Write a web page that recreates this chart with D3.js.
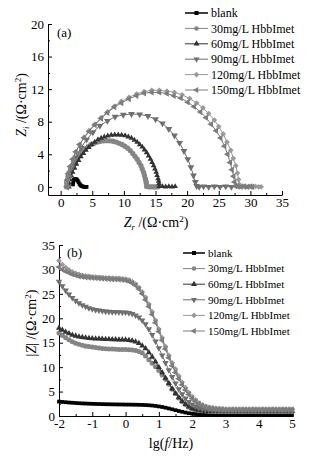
<!DOCTYPE html>
<html>
<head>
<meta charset="utf-8">
<script src="https://cdn.jsdelivr.net/npm/d3@7"></script>
<style>
  body { margin: 0; background: #fff; }
  text { font-family: "Liberation Serif", "Times New Roman", serif; fill: #000; }
</style>
</head>
<body>
<svg id="chart" width="318" height="458"></svg>
<script>
// legend names
const seriesNames = ["blank", "30mg/L HbbImet", "60mg/L HbbImet", "90mg/L HbbImet", "120mg/L HbbImet", "150mg/L HbbImet"];

// (a) Nyquist: [Zr, Zi]
const nyqBlank = [[1.95,0.3],[2.0,0.6],[2.1,0.85],[2.25,0.95],[2.4,0.95],[2.55,0.9],[2.7,0.75],[2.85,0.55],[3.0,0.35],[3.15,0.2],[3.3,0.1],[3.5,0.05],[3.7,0.0],[3.9,0.0],[4.1,0.0]];
const nyq30 = [[0.9,0],[0.95,0.45],[1.0,0.8],[1.15,1.25],[1.3,1.7],[1.55,2.15],[1.8,2.6],[2.1,3.0],[2.4,3.4],[2.75,3.75],[3.1,4.1],[3.5,4.4],[3.9,4.7],[4.35,4.95],[4.8,5.2],[5.3,5.35],[5.8,5.5],[6.3,5.6],[6.8,5.65],[7.3,5.67],[7.8,5.65],[8.3,5.6],[8.8,5.5],[9.25,5.35],[9.7,5.2],[10.15,5.0],[10.6,4.75],[11.0,4.45],[11.4,4.1],[11.75,3.75],[12.1,3.4],[12.4,3.0],[12.7,2.6],[12.9,2.2],[13.1,1.8],[13.25,1.4],[13.4,1.0],[13.5,0.7],[13.55,0.4],[13.6,0.05],[13.9,0.0],[14.2,0.0],[14.5,0.0],[14.8,0.0],[15.1,0.0],[15.4,0.0]];
const nyq60 = [[1.3,0],[1.35,0.45],[1.5,0.9],[1.7,1.35],[1.9,1.8],[2.2,2.3],[2.5,2.8],[2.85,3.25],[3.2,3.7],[3.6,4.1],[4.0,4.5],[4.45,4.85],[4.9,5.2],[5.4,5.5],[5.9,5.8],[6.4,6.0],[6.9,6.15],[7.45,6.27],[8.0,6.35],[8.55,6.4],[9.1,6.4],[9.65,6.37],[10.2,6.3],[10.7,6.15],[11.2,6.0],[11.65,5.75],[12.1,5.5],[12.5,5.2],[12.9,4.9],[13.25,4.55],[13.6,4.2],[13.9,3.8],[14.2,3.4],[14.45,3.0],[14.7,2.6],[14.9,2.2],[15.1,1.8],[15.25,1.4],[15.4,1.0],[15.5,0.7],[15.55,0.4],[15.6,0.05],[16.1,0.05],[16.6,0.0],[17.1,0.05],[17.6,0.0],[18.1,0.05]];
const nyq90 = [[1.2,0],[1.4,1.2],[1.8,2.4],[2.4,3.6],[3.2,4.8],[4.1,5.8],[5.1,6.7],[6.2,7.5],[7.4,8.1],[8.6,8.6],[9.9,8.85],[11.2,8.95],[12.5,8.9],[13.8,8.7],[15.0,8.3],[16.1,7.8],[17.1,7.1],[18.0,6.3],[18.8,5.4],[19.5,4.4],[20.1,3.4],[20.6,2.4],[21.0,1.4],[21.3,0.6],[21.5,0.1],[21.9,0.0],[22.6,0.05],[23.4,0.0],[24.3,0.05],[25.2,0.0],[26.1,0.05],[27.0,0.0]];
const nyq120 = [[1.0,0],[1.05,0.8],[1.2,1.6],[1.5,2.5],[1.9,3.4],[2.4,4.3],[3.0,5.2],[3.7,6.1],[4.5,6.9],[5.4,7.7],[6.4,8.5],[7.4,9.2],[8.5,9.9],[9.6,10.5],[10.8,11.0],[12.0,11.4],[13.2,11.7],[14.4,11.85],[15.6,11.85],[16.8,11.75],[18.0,11.6],[19.2,11.3],[20.4,10.85],[21.5,10.3],[22.5,9.7],[23.4,9.0],[24.3,8.2],[25.0,7.4],[25.7,6.5],[26.3,5.5],[26.9,4.5],[27.3,3.5],[27.7,2.6],[27.95,1.7],[28.15,0.9],[28.25,0.3],[28.3,0.05],[28.8,0.1],[29.3,0.0],[29.8,0.05],[30.3,0.0],[30.8,0.05],[31.3,0.0],[31.7,0.0]];
const nyq150 = [[1.0,0],[1.05,0.8],[1.2,1.6],[1.5,2.5],[1.9,3.4],[2.4,4.3],[3.0,5.2],[3.7,6.0],[4.5,6.8],[5.4,7.6],[6.4,8.4],[7.4,9.1],[8.5,9.8],[9.6,10.3],[10.8,10.8],[12.0,11.2],[13.2,11.5],[14.4,11.6],[15.6,11.6],[16.8,11.45],[17.9,11.2],[19.0,10.9],[20.1,10.4],[21.1,9.85],[22.1,9.2],[23.0,8.5],[23.8,7.7],[24.6,6.9],[25.3,6.0],[25.9,5.0],[26.4,4.0],[26.8,3.0],[27.1,2.1],[27.35,1.3],[27.5,0.6],[27.6,0.1],[28.0,0.05],[28.5,0.0],[29.0,0.05],[29.5,0.0],[30.0,0.05],[30.3,0.0]];

// (b) Bode: lg(f/Hz) and |Z|
const lgFreq = [-2.0,-1.9,-1.8,-1.7,-1.6,-1.5,-1.4,-1.3,-1.2,-1.1,
  -1.0,-0.9,-0.8,-0.7,-0.6,-0.5,-0.4,-0.3,-0.2,-0.1,
  0.0,0.1,0.2,0.3,0.4,0.5,0.6,0.7,0.8,0.9,
  1.0,1.1,1.2,1.3,1.4,1.5,1.6,1.7,1.8,1.9,
  2.0,2.1,2.2,2.3,2.4,2.5,2.6,2.7,2.8,2.9,
  3.0,3.1,3.2,3.3,3.4,3.5,3.6,3.7,3.8,3.9,
  4.0,4.1,4.2,4.3,4.4,4.5,4.6,4.7,4.8,4.9,5.0];
const bodeBlank = [2.95,2.88,2.82,2.76,2.71,2.66,2.62,2.58,2.55,2.52,
  2.49,2.47,2.45,2.43,2.41,2.40,2.38,2.37,2.36,2.35,
  2.34,2.33,2.32,2.31,2.29,2.27,2.24,2.20,2.14,2.06,
  1.96,1.84,1.70,1.54,1.37,1.19,1.02,0.86,0.71,0.58,
  0.48,0.40,0.34,0.29,0.26,0.24,0.22,0.21,0.21,0.20,
  0.20,0.20,0.20,0.20,0.20,0.20,0.20,0.20,0.20,0.20,
  0.20,0.20,0.20,0.20,0.20,0.20,0.20,0.20,0.20,0.20,0.20];
const bode30 = [17.0,16.5,16.0,15.6,15.2,14.9,14.7,14.5,14.3,14.2,
  14.1,14.0,13.9,13.8,13.75,13.7,13.7,13.65,13.6,13.6,
  13.6,13.55,13.5,13.4,13.2,12.9,12.3,11.5,10.8,10.1,
  9.3,8.4,7.5,6.5,5.5,4.6,3.7,2.9,2.3,1.8,
  1.5,1.3,1.15,1.05,1.0,0.95,0.92,0.9,0.9,0.9,
  0.9,0.9,0.9,0.9,0.9,0.9,0.9,0.9,0.9,0.9,
  0.9,0.9,0.9,0.9,0.9,0.9,0.9,0.9,0.9,0.9,0.9];
const bode60 = [18.0,17.6,17.2,16.9,16.6,16.4,16.2,16.1,16.0,15.9,
  15.85,15.8,15.8,15.75,15.7,15.7,15.65,15.65,15.6,15.6,
  15.6,15.5,15.4,15.2,14.9,14.4,13.8,13.0,12.1,11.1,
  10.0,8.9,7.8,6.7,5.6,4.6,3.8,3.0,2.4,1.9,
  1.55,1.35,1.2,1.1,1.0,0.97,0.95,0.95,0.95,0.95,
  0.95,0.95,0.95,0.95,0.95,0.95,0.95,0.95,0.95,0.95,
  0.95,0.95,0.95,0.95,0.95,0.95,0.95,0.95,0.95,0.95,0.95];
const bode90 = [27.5,26.6,25.7,24.9,24.2,23.6,23.1,22.7,22.4,22.1,
  21.9,21.7,21.6,21.5,21.4,21.35,21.3,21.3,21.25,21.2,
  21.2,21.1,20.9,20.6,20.2,19.6,18.8,17.8,16.6,15.3,
  13.9,12.4,10.9,9.4,8.0,6.7,5.5,4.5,3.6,2.9,
  2.4,2.0,1.7,1.5,1.4,1.3,1.25,1.2,1.15,1.15,
  1.15,1.15,1.15,1.15,1.15,1.15,1.15,1.15,1.15,1.15,
  1.15,1.15,1.15,1.15,1.15,1.15,1.15,1.15,1.15,1.15,1.15];
const bode120 = [31.8,31.0,30.4,29.9,29.5,29.2,29.0,28.8,28.7,28.6,
  28.5,28.45,28.4,28.35,28.3,28.3,28.25,28.2,28.2,28.1,
  28.0,27.8,27.5,27.0,26.3,25.4,24.3,22.9,21.3,19.6,
  17.8,16.0,14.2,12.4,10.9,9.6,8.2,6.9,5.8,4.8,
  4.0,3.3,2.7,2.3,2.0,1.8,1.65,1.55,1.5,1.45,
  1.4,1.4,1.4,1.4,1.4,1.4,1.4,1.4,1.4,1.4,
  1.4,1.4,1.4,1.4,1.4,1.4,1.4,1.4,1.4,1.4,1.4];
const bode150 = [30.5,30.0,29.6,29.3,29.0,28.8,28.6,28.5,28.4,28.35,
  28.3,28.25,28.2,28.15,28.1,28.05,28.0,28.0,27.95,27.9,
  27.8,27.6,27.2,26.7,26.0,25.0,23.8,22.4,20.8,19.1,
  17.3,15.5,13.7,11.9,10.3,8.9,7.6,6.4,5.3,4.4,
  3.6,3.0,2.5,2.1,1.85,1.65,1.55,1.45,1.4,1.35,
  1.3,1.3,1.3,1.3,1.3,1.3,1.3,1.3,1.3,1.3,
  1.3,1.3,1.3,1.3,1.3,1.3,1.3,1.3,1.3,1.3,1.3];

// tick values
const xTicksA = [0, 5, 10, 15, 20, 25, 30, 35];
const yTicksA = [0, 4, 8, 12, 16, 20];
const xTicksB = [-2, -1, 0, 1, 2, 3, 4, 5];
const yTicksB = [0, 5, 10, 15, 20, 25, 30, 35];

// styles per series
const colors = ["#000000", "#858585", "#333333", "#6f6f6f", "#9a9a9a", "#7c7c7c"];
const symTypes = [d3.symbolSquare, d3.symbolCircle, d3.symbolTriangle, d3.symbolTriangle, d3.symbolSquare, d3.symbolTriangle];
const symRotate = [0, 0, 0, 180, 45, -90];
const symSizeA = [14, 22, 14, 20, 16, 18];
const symSizeB = [14, 20, 16, 18, 16, 18];

const svg = d3.select("#chart");

const xA = d3.scaleLinear().domain([-2, 35]).range([48, 282]);
const yA = d3.scaleLinear().domain([-1, 20]).range([195, 24]);
const xB = d3.scaleLinear().domain([-2, 5]).range([59, 292]);
const yB = d3.scaleLinear().domain([0, 35]).range([416, 245]);

function minorBetween(ticks) {
  const out = [];
  for (let i = 0; i < ticks.length - 1; i++) out.push((ticks[i] + ticks[i + 1]) / 2);
  return out;
}

function addAxes(x, y, xTicks, yTicks) {
  const y0 = y.range()[0], x0 = x.range()[0];
  // minor ticks
  svg.append("g").attr("transform", `translate(0,${y0})`)
    .call(d3.axisBottom(x).tickValues(minorBetween(xTicks)).tickSize(-2).tickFormat(""))
    .call(g => g.select(".domain").remove());
  svg.append("g").attr("transform", `translate(${x0},0)`)
    .call(d3.axisLeft(y).tickValues(minorBetween(yTicks)).tickSize(-2).tickFormat(""))
    .call(g => g.select(".domain").remove());
  // major ticks
  const gx = svg.append("g").attr("transform", `translate(0,${y0})`)
    .call(d3.axisBottom(x).tickValues(xTicks).tickSize(-4).tickSizeOuter(0).tickPadding(3).tickFormat(d => String(d)));
  const gy = svg.append("g").attr("transform", `translate(${x0},0)`)
    .call(d3.axisLeft(y).tickValues(yTicks).tickSize(-4).tickSizeOuter(0).tickPadding(4).tickFormat(d => String(d)));
  [gx, gy].forEach(g => {
    g.attr("font-family", null).attr("font-size", null);
    g.selectAll("text").style("font-size", "13px");
  });
}

function drawSeries(x, y, data, i, size) {
  svg.append("path").datum(data)
    .attr("fill", "none")
    .attr("stroke", colors[i])
    .attr("stroke-width", i === 0 ? 2 : 1)
    .attr("d", d3.line().x(d => x(d[0])).y(d => y(d[1])));
  svg.append("g").selectAll("path").data(data).join("path")
    .attr("transform", d => `translate(${x(d[0])},${y(d[1])}) rotate(${symRotate[i]})`)
    .attr("d", d3.symbol().type(symTypes[i]).size(size))
    .attr("fill", colors[i]);
}

function drawLegend(left, top, step, fontSize, lineLen) {
  seriesNames.forEach((name, i) => {
    const g = svg.append("g").attr("transform", `translate(${left},${top + i * step})`);
    g.append("line").attr("x1", 0).attr("x2", lineLen).attr("y1", 0).attr("y2", 0)
      .attr("stroke", colors[i]).attr("stroke-width", i === 0 ? 1.5 : 1);
    g.append("path")
      .attr("transform", `translate(${lineLen / 2},0) rotate(${symRotate[i]})`)
      .attr("d", d3.symbol().type(symTypes[i]).size(16))
      .attr("fill", colors[i]);
    g.append("text").attr("x", lineLen + 3).attr("y", 0).attr("dy", "0.35em")
      .style("font-size", fontSize + "px").text(name);
  });
}

// ---- panel (a)
addAxes(xA, yA, xTicksA, yTicksA);
[nyqBlank, nyq30, nyq60, nyq90, nyq120, nyq150].forEach((d, i) => drawSeries(xA, yA, d, i, symSizeA[i]));
drawLegend(185, 13, 15.4, 12, 23);
svg.append("text").attr("x", 57).attr("y", 37).style("font-size", "13px").text("(a)");

// y label (a)
const ylA = svg.append("text").attr("transform", "translate(26,105) rotate(-90)")
  .attr("text-anchor", "middle").style("font-size", "14px");
ylA.append("tspan").style("font-style", "italic").text("Z");
ylA.append("tspan").attr("dy", 3).style("font-size", "9px").style("font-style", "italic").text("i");
ylA.append("tspan").attr("dy", -3).text(" /(Ω·cm");
ylA.append("tspan").attr("dy", -5).style("font-size", "9px").text("2");
ylA.append("tspan").attr("dy", 5).text(")");

// x label (a)
const xlA = svg.append("text").attr("transform", "translate(156,227)")
  .attr("text-anchor", "middle").style("font-size", "14px");
xlA.append("tspan").style("font-style", "italic").text("Z");
xlA.append("tspan").attr("dy", 3).style("font-size", "9px").style("font-style", "italic").text("r");
xlA.append("tspan").attr("dy", -3).text(" /(Ω·cm");
xlA.append("tspan").attr("dy", -5).style("font-size", "9px").text("2");
xlA.append("tspan").attr("dy", 5).text(")");

// ---- panel (b)
addAxes(xB, yB, xTicksB, yTicksB);
[bodeBlank, bode30, bode60, bode90, bode120, bode150].forEach((vals, i) => {
  drawSeries(xB, yB, lgFreq.map((f, j) => [f, vals[j]]), i, symSizeB[i]);
});
drawLegend(183, 253, 15.6, 11, 22);
svg.append("text").attr("x", 67).attr("y", 257).style("font-size", "13px").text("(b)");

const ylB = svg.append("text").attr("transform", "translate(36,323) rotate(-90)")
  .attr("text-anchor", "middle").style("font-size", "14px");
ylB.append("tspan").text("|");
ylB.append("tspan").style("font-style", "italic").text("Z");
ylB.append("tspan").text("| /(Ω·cm");
ylB.append("tspan").attr("dy", -5).style("font-size", "9px").text("2");
ylB.append("tspan").attr("dy", 5).text(")");

const xlB = svg.append("text").attr("transform", "translate(171,448)")
  .attr("text-anchor", "middle").style("font-size", "14px");
xlB.append("tspan").text("lg(");
xlB.append("tspan").style("font-style", "italic").text("f");
xlB.append("tspan").text("/Hz)");
</script>
</body>
</html>
